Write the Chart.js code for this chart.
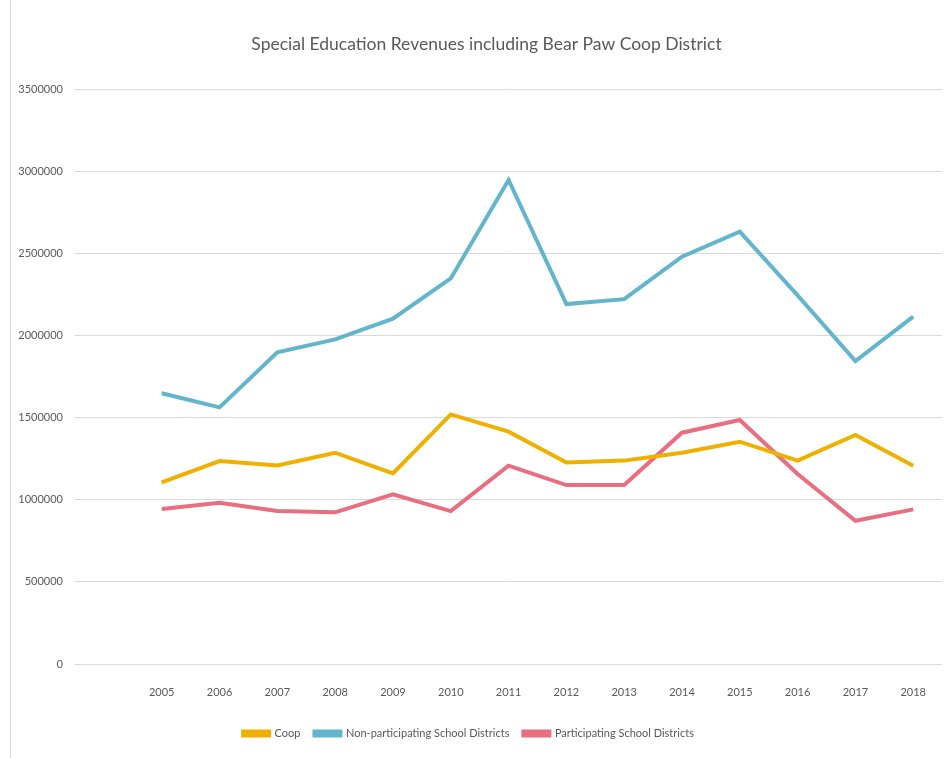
<!DOCTYPE html>
<html>
<head>
<meta charset="utf-8">
<script src="https://cdn.jsdelivr.net/npm/chart.js@4"></script>
<style>
  html, body { margin: 0; padding: 0; background: #fff; }
  #wrap { position: relative; width: 948px; height: 758px; }
  #frame { position: absolute; left: 10px; top: 0; width: 1px; height: 758px; background: #d9d9d9; }
</style>
</head>
<body>
<div id="wrap">
  <div id="frame"></div>
  <canvas id="chart" width="948" height="758"></canvas>
</div>
<script>
const years = ["", "2005", "2006", "2007", "2008", "2009", "2010", "2011", "2012", "2013", "2014", "2015", "2016", "2017", "2018"];
const coop = [null, 1105000, 1235000, 1209000, 1286000, 1160000, 1519000, 1414000, 1227000, 1238000, 1286000, 1353000, 1238000, 1394000, 1207000];
const nonParticipating = [null, 1648000, 1562000, 1897000, 1976000, 2102000, 2347000, 2946000, 2191000, 2221000, 2479000, 2631000, 2244000, 1844000, 2114000];
const participating = [null, 943000, 982000, 931000, 923000, 1033000, 931000, 1207000, 1089000, 1089000, 1408000, 1485000, 1156000, 872000, 941000];
const yTicks = [0, 500000, 1000000, 1500000, 2000000, 2500000, 3000000, 3500000];

const FONT = "Lato, 'Open Sans', sans-serif";
const GRAY = "#595959";

function line(label, data, color) {
  return {
    label: label,
    data: data,
    borderColor: color,
    backgroundColor: color,
    borderWidth: 4,
    pointRadius: 0,
    tension: 0,
    borderJoinStyle: "miter"
  };
}

// nudge title and legend sideways like the original layout
const nudge = {
  id: "nudge",
  afterLayout(chart) {
    chart.titleBlock.left += 22;
    chart.legend.left -= 7;
    chart.legend.right -= 7;
  }
};

new Chart(document.getElementById("chart"), {
  type: "line",
  data: {
    labels: years,
    datasets: [
      line("Coop", coop, "#f0b000"),
      line("Non-participating School Districts", nonParticipating, "#62b5cc"),
      line("Participating School Districts", participating, "#e96e80")
    ]
  },
  options: {
    responsive: false,
    animation: false,
    layout: { padding: { left: 0, right: -3, top: 0, bottom: 9 } },
    plugins: {
      title: {
        display: true,
        text: "Special Education Revenues including Bear Paw Coop District",
        color: GRAY,
        font: { family: FONT, size: 17.5, weight: "normal" },
        padding: { top: 34, bottom: 34 }
      },
      legend: {
        position: "bottom",
        labels: {
          color: GRAY,
          font: { family: FONT, size: 11 },
          boxWidth: 26,
          boxHeight: 4,
          padding: 14
        }
      },
      tooltip: { enabled: false }
    },
    scales: {
      x: {
        offset: true,
        grid: { display: false, drawTicks: false },
        border: { display: false },
        ticks: { color: GRAY, font: { family: FONT, size: 11 }, padding: 22, maxRotation: 0 },
        afterFit: s => { s.height = 50; }
      },
      y: {
        min: 0,
        max: 3500000,
        afterBuildTicks: s => { s.ticks = yTicks.map(v => ({ value: v })); },
        grid: { color: "#d9d9d9", lineWidth: 1, drawTicks: false },
        border: { display: false },
        ticks: { color: GRAY, font: { family: FONT, size: 11 }, padding: 12, callback: v => String(v) },
        afterFit: s => { s.width = 75; }
      }
    }
  },
  plugins: [nudge]
});
</script>
</body>
</html>
